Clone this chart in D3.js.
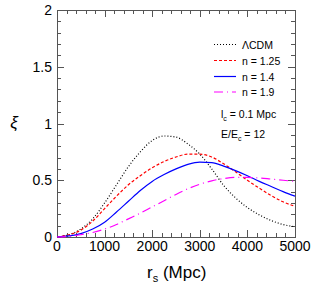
<!DOCTYPE html>
<html>
<head>
<meta charset="utf-8">
<script src="https://cdn.jsdelivr.net/npm/d3@7"></script>
<style>
  body { margin: 0; background: #fff; }
  text { font-family: "Liberation Sans", Arial, sans-serif; fill: #000; }
</style>
</head>
<body>
<div id="plot-container"></div>
<script>
// separation r_s in Mpc
var rs = [0, 250, 500, 750, 1000, 1250, 1500, 1750, 2000, 2250, 2500,
          2750, 3000, 3250, 3500, 3750, 4000, 4250, 4500, 4750, 5000];
var xiLCDM = [0, 0.02, 0.07, 0.16, 0.30, 0.46, 0.62, 0.75, 0.85, 0.89, 0.88,
              0.82, 0.73, 0.60, 0.455, 0.345, 0.26, 0.195, 0.145, 0.11, 0.09];
var xiN125 = [0, 0.02, 0.06, 0.14, 0.25, 0.36, 0.46, 0.54, 0.61, 0.665, 0.705,
              0.73, 0.73, 0.705, 0.645, 0.575, 0.50, 0.43, 0.365, 0.31, 0.27];
var xiN14 = [0, 0.01, 0.03, 0.07, 0.13, 0.22, 0.315, 0.41, 0.49, 0.55, 0.60,
             0.64, 0.66, 0.655, 0.625, 0.585, 0.54, 0.49, 0.445, 0.40, 0.36];
var xiN19 = [0, 0.005, 0.02, 0.04, 0.07, 0.11, 0.16, 0.21, 0.265, 0.32, 0.375,
             0.425, 0.465, 0.495, 0.515, 0.525, 0.525, 0.52, 0.51, 0.50, 0.49];
var seriesNames = ["\u039BCDM", "n = 1.25", "n = 1.4", "n = 1.9"];
var xTicks = [0, 1000, 2000, 3000, 4000, 5000];
var yTicks = [0, 0.5, 1, 1.5, 2];

var W = 315, H = 303;
var padL = 57, padR = 295, padT = 10, padB = 237;

var svg = d3.select("#plot-container").append("svg")
    .attr("width", W).attr("height", H);

var x = d3.scaleLinear().domain([0, 5000]).range([padL, padR]);
var y = d3.scaleLinear().domain([0, 2]).range([padB, padT]);

var axisCol = "#555";

// frame
svg.append("rect")
    .attr("x", padL + 0.5).attr("y", padT + 0.5)
    .attr("width", padR - padL).attr("height", padB - padT)
    .attr("fill", "none").attr("stroke", axisCol).attr("stroke-width", 1);

// ticks on all four sides, pointing inward
var xMinor = d3.range(0, 5001, 200);
var yMinor = d3.range(0, 2.001, 0.1);
function isMajorX(v) { return v % 1000 === 0; }
function isMajorY(v) { return Math.abs(v * 2 - Math.round(v * 2)) < 1e-6; }

var tk = svg.append("g").attr("stroke", axisCol).attr("stroke-width", 1);
xMinor.forEach(function (v) {
    var len = isMajorX(v) ? 7 : 4;
    var px = Math.round(x(v)) + 0.5;
    tk.append("line").attr("x1", px).attr("x2", px).attr("y1", padB).attr("y2", padB - len);
    tk.append("line").attr("x1", px).attr("x2", px).attr("y1", padT).attr("y2", padT + len);
});
yMinor.forEach(function (v) {
    var len = isMajorY(v) ? 7 : 4;
    var py = Math.round(y(v)) + 0.5;
    tk.append("line").attr("x1", padL).attr("x2", padL + len).attr("y1", py).attr("y2", py);
    tk.append("line").attr("x1", padR).attr("x2", padR - len).attr("y1", py).attr("y2", py);
});

// tick labels
svg.selectAll(".xl").data(xTicks).enter().append("text")
    .attr("x", function (d) { return x(d); })
    .attr("y", 251)
    .attr("text-anchor", "middle")
    .style("font-size", "14px")
    .text(function (d) { return d; });
svg.selectAll(".yl").data(yTicks).enter().append("text")
    .attr("x", 52)
    .attr("y", function (d) { return y(d) + 5; })
    .attr("text-anchor", "end")
    .style("font-size", "14px")
    .text(function (d) { return d; });

// axis titles
svg.append("text").attr("x", 14).attr("y", 128)
    .attr("text-anchor", "middle")
    .style("font-size", "17px")
    .style("font-style", "italic")
    .text("\u03BE");
var xt = svg.append("text").attr("x", 147).attr("y", 278)
    .style("font-size", "17px");
xt.append("tspan").text("r");
xt.append("tspan").attr("dy", 4).style("font-size", "11px").text("s");
xt.append("tspan").attr("dy", -4).text(" (Mpc)");

// curves
var styles = [
    { data: xiLCDM, color: "#000", dash: "1,2" },
    { data: xiN125, color: "#ff0000", dash: "3,2" },
    { data: xiN14, color: "#0000ff", dash: null },
    { data: xiN19, color: "#ff00ff", dash: "9,4,1,4" }
];
var line = d3.line()
    .x(function (d) { return x(d[0]); })
    .y(function (d) { return y(d[1]); })
    .curve(d3.curveMonotoneX);

styles.forEach(function (s) {
    svg.append("path")
        .datum(rs.map(function (r, i) { return [r, s.data[i]]; }))
        .attr("d", line)
        .attr("fill", "none")
        .attr("stroke", s.color)
        .attr("stroke-width", 1.2)
        .attr("stroke-dasharray", s.dash);
});

// legend
var legY = [44.5, 60.5, 76.5, 92];
styles.forEach(function (s, i) {
    svg.append("line")
        .attr("x1", 214).attr("x2", 236)
        .attr("y1", legY[i]).attr("y2", legY[i])
        .attr("stroke", s.color).attr("stroke-width", 1.2)
        .attr("stroke-dasharray", s.dash);
    svg.append("text")
        .attr("x", 242).attr("y", legY[i] + 4)
        .style("font-size", "10.5px")
        .text(seriesNames[i]);
});

var t1 = svg.append("text").attr("x", 221).attr("y", 118).style("font-size", "10.5px");
t1.append("tspan").text("l");
t1.append("tspan").attr("dy", 3).style("font-size", "7px").text("c");
t1.append("tspan").attr("dy", -3).text(" = 0.1 Mpc");
var t2 = svg.append("text").attr("x", 221).attr("y", 138).style("font-size", "10.5px");
t2.append("tspan").text("E/E");
t2.append("tspan").attr("dy", 3).style("font-size", "7px").text("c");
t2.append("tspan").attr("dy", -3).text(" = 12");
</script>
</body>
</html>
